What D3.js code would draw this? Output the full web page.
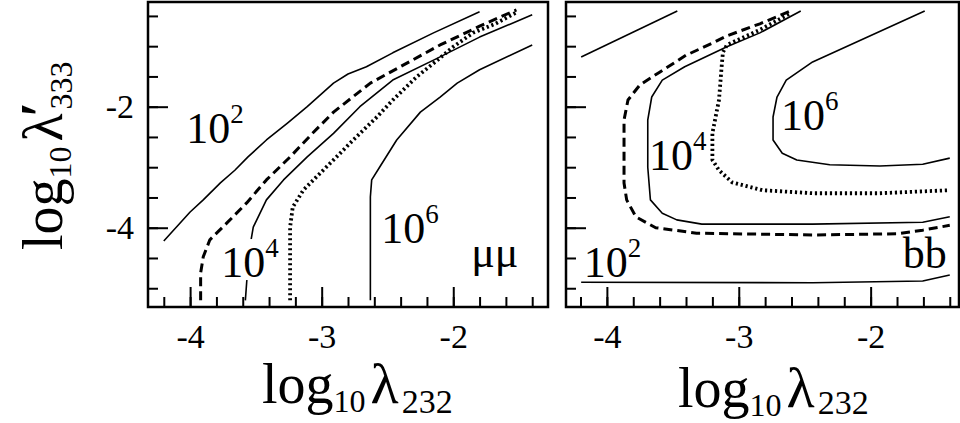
<!DOCTYPE html>
<html>
<head>
<meta charset="utf-8" />
<script src="https://d3js.org/d3.v7.min.js"></script>
<style>
  body { margin: 0; background: #fff; }
  svg { display: block; background: #fff; }
  .frame { fill: none; stroke: #000; stroke-width: 2.5px; }
  .axis path { display: none; }
  .axis line { stroke: #000; stroke-width: 2px; }
  .contour { fill: none; stroke: #000; stroke-linejoin: round; }
  .solid { stroke-width: 1.6px; }
  .dashed { stroke-width: 3px; stroke-dasharray: 9 5; }
  .dotted { stroke-width: 3.8px; stroke-dasharray: 2.2 2.8; }
</style>
</head>
<body>
<svg width="960" height="423"></svg>
<script>
  const SERIF = '"Liberation Serif", "Times New Roman", Times, serif';

  // contour lines, [log10 lambda232, log10 lambda'333]
  // left panel: mu mu
  const mumu_1e2 = [[-4.20,-4.22],[-4.00,-3.74],[-3.90,-3.54],[-3.77,-3.26],[-3.66,-3.05],[-3.56,-2.83],
    [-3.42,-2.55],[-3.26,-2.27],[-3.11,-2.00],[-2.91,-1.61],[-2.80,-1.46],[-2.66,-1.34],[-2.46,-1.11],
    [-2.15,-0.78],[-1.80,-0.43]];
  const mumu_1e3 = [[-3.92,-5.20],[-3.92,-4.75],[-3.90,-4.48],[-3.85,-4.20],[-3.72,-3.92],[-3.57,-3.59],
    [-3.42,-3.21],[-3.24,-2.83],[-3.07,-2.44],[-2.91,-2.09],[-2.63,-1.61],[-2.10,-0.98],[-1.80,-0.67],
    [-1.52,-0.40]];
  const mumu_1e4 = [[-3.58,-5.20],[-3.57,-4.90],[-3.55,-4.37],[-3.52,-3.99],[-3.42,-3.54],[-3.29,-3.21],
    [-3.11,-2.83],[-2.91,-2.44],[-2.71,-2.00],[-2.46,-1.56],[-2.15,-1.23],[-1.80,-0.85],[-1.40,-0.48]];
  const mumu_1e5 = [[-3.24,-5.20],[-3.24,-3.99],[-3.22,-3.66],[-3.14,-3.38],[-3.04,-3.16],[-2.91,-2.88],
    [-2.76,-2.55],[-2.58,-2.17],[-2.46,-1.89],[-2.28,-1.51],[-2.12,-1.23],[-2.00,-1.01],[-1.85,-0.78],
    [-1.68,-0.63],[-1.51,-0.43]];
  const mumu_1e6 = [[-2.63,-5.20],[-2.63,-3.49],[-2.62,-3.21],[-2.56,-3.00],[-2.43,-2.55],[-2.25,-2.09],
    [-2.10,-1.84],[-1.97,-1.61],[-1.80,-1.39],[-1.40,-0.98]];

  // right panel: b b
  const bb_1e2_top = [[-4.195,-1.18],[-3.466,-0.42]];
  const bb_1e2_bot = [[-4.195,-4.90],[-2.44,-4.91],[-1.605,-4.88],[-1.40,-4.78]];
  const bb_1e3 = [[-2.62,-0.43],[-2.84,-0.63],[-3.09,-0.83],[-3.20,-0.95],[-3.40,-1.15],[-3.60,-1.43],
    [-3.75,-1.64],[-3.84,-1.89],[-3.87,-2.22],[-3.87,-3.26],[-3.85,-3.54],[-3.78,-3.82],[-3.63,-4.00],
    [-3.32,-4.09],[-2.44,-4.12],[-1.80,-4.10],[-1.605,-4.04],[-1.40,-3.96]];
  const bb_1e4 = [[-2.53,-0.42],[-2.84,-0.78],[-3.09,-1.01],[-3.41,-1.34],[-3.58,-1.56],[-3.66,-1.84],
    [-3.69,-2.22],[-3.69,-3.00],[-3.67,-3.54],[-3.58,-3.76],[-3.47,-3.87],[-3.28,-3.94],[-2.44,-3.94],
    [-1.605,-3.91],[-1.40,-3.82]];
  const bb_1e5 = [[-2.62,-0.47],[-2.84,-0.73],[-3.09,-0.98],[-3.12,-1.10],[-3.13,-1.34],[-3.15,-1.89],
    [-3.20,-2.44],[-3.20,-2.88],[-3.15,-3.05],[-3.05,-3.25],[-2.82,-3.38],[-2.44,-3.43],[-1.93,-3.43],
    [-1.40,-3.38]];
  const bb_1e6 = [[-1.59,-0.42],[-2.44,-1.26],[-2.64,-1.56],[-2.71,-1.84],[-2.74,-2.17],[-2.74,-2.55],
    [-2.67,-2.77],[-2.56,-2.88],[-2.31,-2.96],[-1.93,-2.98],[-1.605,-2.95],[-1.40,-2.85]];

  // contour labels: [x, y, base, exponent]
  const mumuLabels = [[-4.03,-2.60,"10","2"],[-3.764,-4.815,"10","4"],[-2.547,-4.253,"10","6"],[-1.863,-4.65,"μμ",""]];
  const bbLabels = [[-2.679,-2.385,"10","6"],[-3.681,-3.046,"10","4"],[-4.175,-4.815,"10","2"],[-1.757,-4.666,"bb",""]];

  const xMajor = [-4, -3, -2];
  const xMinor = d3.range(-21, -6).map(i => i / 5);
  const yMajor = [-4, -2];
  const yMinor = d3.range(-10, 0).map(i => i / 2);

  const svg = d3.select("svg");
  const y = d3.scaleLinear().domain([-5.31, -0.27]).range([307, 2]);
  const line = d3.line();

  function serif(sel, size) {
    return sel.style("font-family", SERIF).style("font-size", size + "px").style("fill", "#000");
  }

  function drawPanel(o) {
    const x = d3.scaleLinear().domain(o.xDomain).range(o.xRange);
    const g = svg.append("g");
    line.x(d => x(d[0])).y(d => y(d[1]));

    o.contours.forEach(c => {
      g.append("path").attr("class", "contour " + c[1]).attr("d", line(c[0]));
    });

    o.labels.forEach(l => {
      const lg = g.append("g");
      const t = serif(lg.append("text"), 44).attr("x", x(l[0])).attr("y", y(l[1]));
      t.append("tspan").text(l[2]);
      if (l[3]) t.append("tspan").attr("dy", -20).style("font-size", "27px").text(l[3]);
      if (o.knock && l[3] === "4") {
        const b = t.node().getBBox();
        lg.insert("rect", "text").attr("x", b.x).attr("y", b.y + 6)
          .attr("width", b.width).attr("height", y(l[1]) - b.y - 3).attr("fill", "#fff");
      }
    });

    const bottom = y.range()[0];
    const left = o.xRange[0];
    g.append("g").attr("class", "axis").attr("transform", `translate(0,${bottom})`)
      .call(d3.axisBottom(x).tickValues(xMinor).tickSize(-10).tickFormat(""));
    const xa = g.append("g").attr("class", "axis").attr("transform", `translate(0,${bottom})`)
      .call(d3.axisBottom(x).tickValues(xMajor).tickSize(-20).tickPadding(17).tickFormat(d => String(d)));
    serif(xa.selectAll("text"), 34);
    g.append("g").attr("class", "axis").attr("transform", `translate(${left},0)`)
      .call(d3.axisLeft(y).tickValues(yMinor).tickSize(-10).tickFormat(""));
    const ya = g.append("g").attr("class", "axis").attr("transform", `translate(${left},0)`)
      .call(d3.axisLeft(y).tickValues(yMajor).tickSize(-20).tickPadding(14)
        .tickFormat(o.yLabels ? (d => String(d)) : ""));
    serif(ya.selectAll("text"), 34);

    g.append("rect").attr("class", "frame")
      .attr("x", o.xRange[0]).attr("y", y.range()[1])
      .attr("width", o.xRange[1] - o.xRange[0]).attr("height", bottom - y.range()[1]);

    // x title
    const tt = serif(g.append("text"), 56).attr("x", o.titleX).attr("y", o.titleY);
    tt.append("tspan").text("log");
    tt.append("tspan").attr("dy", 9).style("font-size", "32px").text("10");
    tt.append("tspan").attr("dy", -9).attr("dx", 5).style("font-size", "58px").text("λ");
    tt.append("tspan").attr("dy", o.subDy).attr("dx", 3).style("font-size", "34px").text("232");
  }

  drawPanel({
    xDomain: [-4.32, -1.28], xRange: [148, 548],
    contours: [[mumu_1e2, "solid"], [mumu_1e3, "dashed"], [mumu_1e4, "solid"], [mumu_1e5, "dotted"], [mumu_1e6, "solid"]],
    labels: mumuLabels, knock: true, yLabels: true, titleX: 262, titleY: 403, subDy: 10
  });
  drawPanel({
    xDomain: [-4.31, -1.33], xRange: [566, 959],
    contours: [[bb_1e2_top, "solid"], [bb_1e2_bot, "solid"], [bb_1e3, "dashed"], [bb_1e4, "solid"], [bb_1e5, "dotted"], [bb_1e6, "solid"]],
    labels: bbLabels, knock: false, yLabels: false, titleX: 678, titleY: 407, subDy: 7
  });

  // y title, rotated
  const yt = serif(svg.append("text"), 56).attr("transform", "translate(62,250) rotate(-90)");
  yt.append("tspan").text("log");
  yt.append("tspan").attr("dy", 9).style("font-size", "32px").text("10");
  yt.append("tspan").attr("dy", -9).attr("dx", 5).style("font-size", "58px").text("λ");
  yt.append("tspan").attr("dy", -2).attr("dx", -4).style("font-weight", "bold").text("′");
  yt.append("tspan").attr("dy", 12).attr("dx", -8).style("font-size", "32px").text("333");
</script>
</body>
</html>
